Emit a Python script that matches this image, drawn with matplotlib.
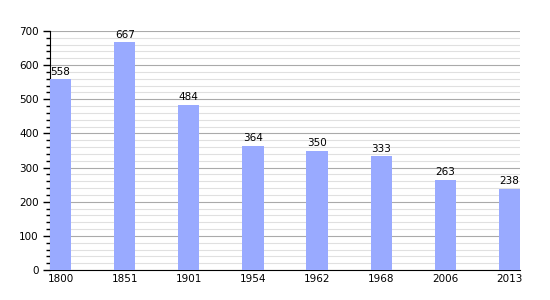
import numpy as np
import matplotlib.pyplot as plt
from matplotlib.ticker import MultipleLocator

years = ['1800', '1851', '1901', '1954', '1962', '1968', '2006', '2013']
population = [558, 667, 484, 364, 350, 333, 263, 238]

fig = plt.figure(figsize=(5.5, 3.0), dpi=100)
ax = fig.add_axes([50 / 550, 30 / 300, 470 / 550, 239 / 300])

x = np.arange(len(years))
ax.bar(x, population, width=0.33, color='#99aaff', zorder=3)
for xi, v in zip(x, population):
    ax.text(xi, v + 8, str(v), ha='center', va='bottom', fontsize=7.5, zorder=4)

ax.set_xlim(-0.165, len(years) - 1 + 0.165)
ax.set_ylim(0, 700)
ax.set_xticks(x)
ax.set_xticklabels(years)
ax.yaxis.set_major_locator(MultipleLocator(100))
ax.yaxis.set_minor_locator(MultipleLocator(20))
ax.grid(axis='y', which='major', color='#aaaaaa', linewidth=0.8, zorder=1)
ax.grid(axis='y', which='minor', color='#e0e0e0', linewidth=0.8, zorder=1)
ax.tick_params(axis='x', length=0, labelsize=7.5, pad=3)
ax.tick_params(axis='y', which='major', length=5, width=1, labelsize=7.5, direction='out', pad=3)
ax.tick_params(axis='y', which='minor', length=3, width=1, direction='out')
for s in ['top', 'right']:
    ax.spines[s].set_visible(False)

fig.savefig('out.png', dpi=100)
